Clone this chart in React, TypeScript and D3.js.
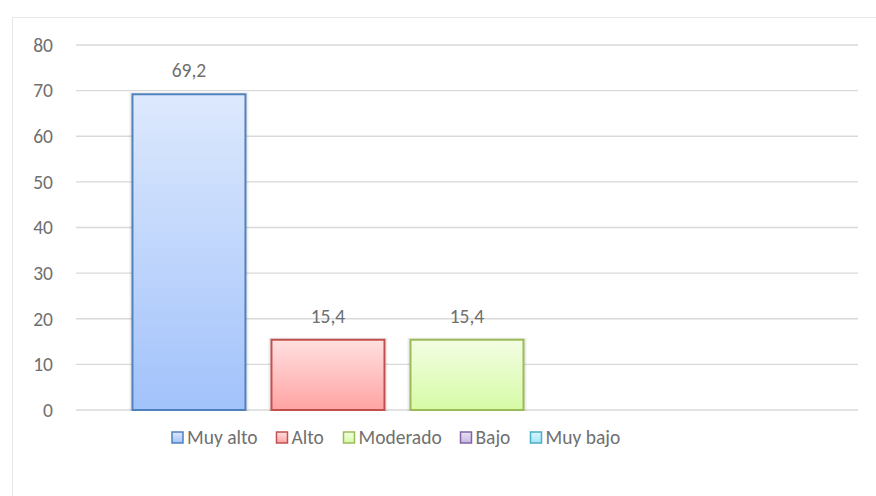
import React from "react";
import * as d3 from "d3";

const series = ["Muy alto", "Alto", "Moderado", "Bajo", "Muy bajo"];
const values = [69.2, 15.4, 15.4, 0, 0];
const yTicks = [0, 10, 20, 30, 40, 50, 60, 70, 80];
const strokes = ["#4f81bd", "#c0504d", "#9bbb59", "#8064a2", "#4bacc6"];
const topFills = ["#dde9fd", "#ffe0e0", "#f3fde3", "#e8e0f3", "#d8f6fd"];
const bottomFills = ["#a2c2fb", "#ffa3a3", "#d6fba6", "#c9b9e3", "#a3e6f8"];

const W = 876;
const H = 496;
const left = 76;
const right = 858;
const top = 45;
const bottom = 410;

export default function App() {
  const x = d3
    .scaleBand<string>()
    .domain(series)
    .range([left, right])
    .paddingInner(0.187)
    .paddingOuter(0.406);
  const y = d3.scaleLinear().domain([0, 80]).range([bottom, top]);
  const font = "Carlito, Lato, 'Open Sans', sans-serif";
  const fs = 19.5;
  const textColor = "#6f6f6f";
  const fmt = (v: number) => v.toFixed(1).replace(".", ",");

  const legendX = [172, 276.5, 343.5, 460.5, 530.5];

  return (
    <svg width={W} height={H} style={{ position: "absolute", left: 0, top: 0 }}>
      <defs>
        {series.map((s, i) => (
          <linearGradient key={s} id={`g${i}`} x1="0" y1="0" x2="0" y2="1">
            <stop offset="0" stopColor={topFills[i]} />
            <stop offset="1" stopColor={bottomFills[i]} />
          </linearGradient>
        ))}
      </defs>
      <rect x={0} y={0} width={W} height={H} fill="#fff" />
      <line x1={12.5} y1={17.5} x2={W} y2={17.5} stroke="#e6e6e6" />
      <line x1={12.5} y1={17.5} x2={12.5} y2={H} stroke="#e6e6e6" />
      {yTicks.map((t) => (
        <g key={t}>
          <line x1={left} x2={right} y1={y(t)} y2={y(t)} stroke="#d9d9d9" strokeWidth={1.3} />
          <text
            x={53}
            y={y(t)}
            dy="0.35em"
            textAnchor="end"
            fontFamily={font}
            fontSize={fs}
            fill={textColor}
          >
            {t}
          </text>
        </g>
      ))}
      {series.map((s, i) => {
        const v = values[i];
        if (v <= 0) return null;
        const bx = x(s)!;
        const bw = x.bandwidth();
        const by = y(v);
        return (
          <g key={s}>
            <rect x={bx - 3} y={by - 2} width={bw + 6} height={y(0) - by + 3} fill="#000" opacity={0.07} />
            <rect
              x={bx}
              y={by}
              width={bw}
              height={y(0) - by}
              fill={`url(#g${i})`}
              stroke={strokes[i]}
              strokeWidth={2}
            />
            <text
              x={bx + bw / 2}
              y={by - 17}
              textAnchor="middle"
              fontFamily={font}
              fontSize={fs}
              fill={textColor}
            >
              {fmt(v)}
            </text>
          </g>
        );
      })}
      {series.map((s, i) => (
        <g key={s}>
          <rect
            x={legendX[i]}
            y={432}
            width={11}
            height={11}
            fill={`url(#g${i})`}
            stroke={strokes[i]}
            strokeWidth={1.5}
          />
          <text
            x={legendX[i] + 15}
            y={437.5}
            dy="0.35em"
            fontFamily={font}
            fontSize={fs}
            fill={textColor}
          >
            {s}
          </text>
        </g>
      ))}
    </svg>
  );
}
